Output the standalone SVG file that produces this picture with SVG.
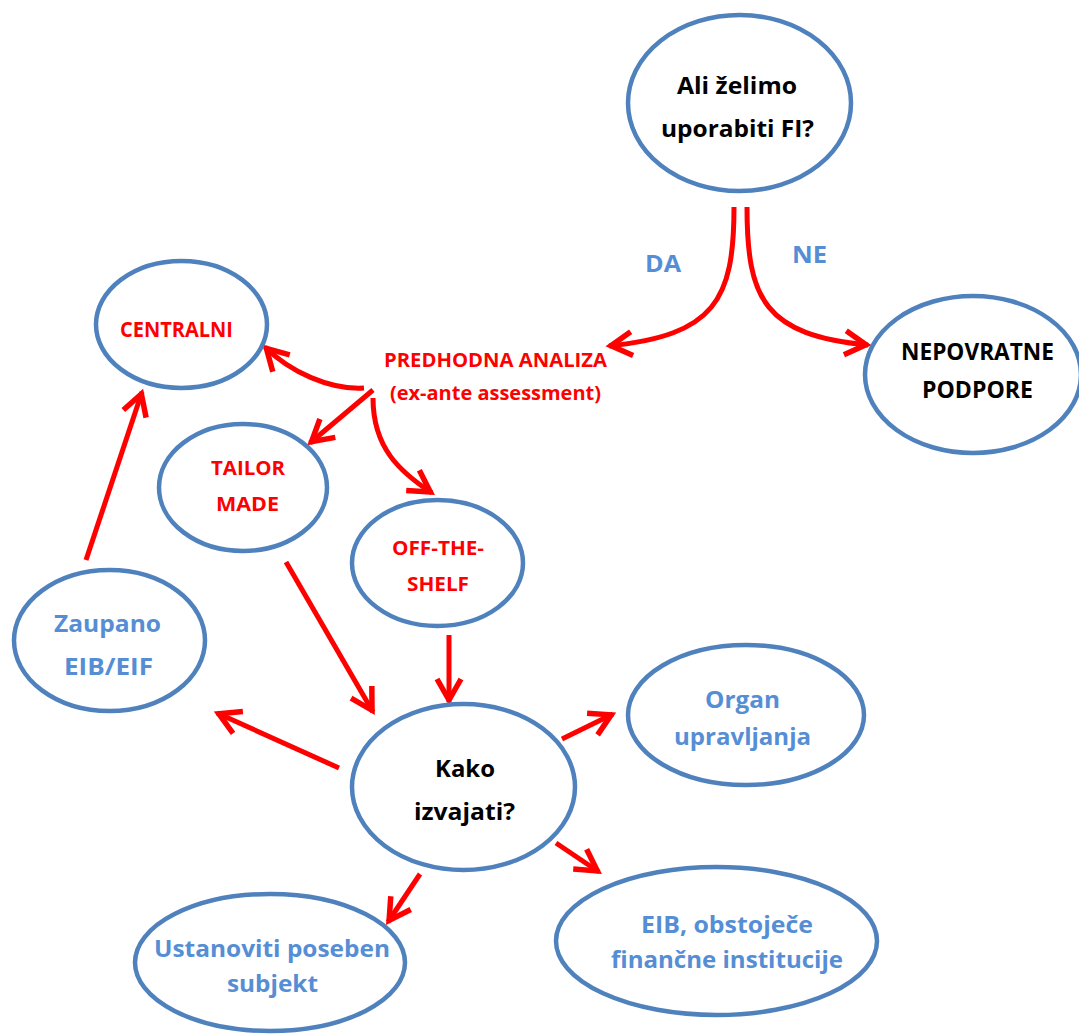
<svg xmlns="http://www.w3.org/2000/svg" width="1079" height="1034" viewBox="0 0 1079 1034">
  <style>
    .node { fill: #ffffff; stroke: #4f81bd; stroke-width: 4.5; }
    .lbl { font-family: "Open Sans", Lato, "Liberation Sans", sans-serif; font-weight: 700; text-anchor: middle; }
    .black { fill: #000000; }
    .red { fill: #ff0000; }
    .blue { fill: #558ed5; }
    .edge { fill: none; stroke: #ff0000; stroke-width: 5; marker-end: url(#head); }
  </style>
  <defs>
    <!-- open chevron arrowhead -->
    <marker id="head" markerUnits="userSpaceOnUse" markerWidth="40" markerHeight="40" refX="0" refY="0" orient="auto" overflow="visible">
      <path d="M-23,-12 L-2,0 L-23,12" fill="none" stroke="#ff0000" stroke-width="5.5" stroke-linejoin="miter"/>
    </marker>
  </defs>

  <rect width="1079" height="1034" fill="#ffffff"/>

  <g id="connectors">
    <path class="edge" d="M734,207 C734,300 715,335 609,346"/>
    <path class="edge" d="M747,207 C747,300 765,335 868,345"/>
    <path class="edge" d="M364,388 C330,390 290,372 265,347"/>
    <path class="edge" d="M373,390 L310,443"/>
    <path class="edge" d="M373,398 C373,448 400,472 432,493"/>
    <path class="edge" d="M286,562 L373,712"/>
    <path class="edge" d="M449,635 L449,702"/>
    <path class="edge" d="M86,560 L142,392"/>
    <path class="edge" d="M339,768 L217,713"/>
    <path class="edge" d="M562,739 L613,714"/>
    <path class="edge" d="M556,843 L599,872"/>
    <path class="edge" d="M420,874 L388,922"/>
  </g>

  <g id="edge-labels">
    <text class="lbl blue" x="663" y="272" font-size="24" textLength="36" lengthAdjust="spacingAndGlyphs">DA</text>
    <text class="lbl blue" x="809.5" y="263" font-size="24" textLength="35" lengthAdjust="spacingAndGlyphs">NE</text>
  </g>

  <g id="node-uporaba">
    <ellipse class="node" cx="739.5" cy="103" rx="111.5" ry="88"/>
    <text class="lbl black" x="737" y="94" font-size="24" textLength="120" lengthAdjust="spacingAndGlyphs">Ali želimo</text>
    <text class="lbl black" x="737.5" y="137" font-size="24" textLength="153" lengthAdjust="spacingAndGlyphs">uporabiti FI?</text>
  </g>

  <g id="node-nepovratne">
    <ellipse class="node" cx="973" cy="374.5" rx="108" ry="78.5"/>
    <text class="lbl black" x="977.5" y="360" font-size="23" textLength="153" lengthAdjust="spacingAndGlyphs">NEPOVRATNE</text>
    <text class="lbl black" x="977.5" y="398" font-size="23" textLength="111" lengthAdjust="spacingAndGlyphs">PODPORE</text>
  </g>

  <g id="node-predhodna">
    <text class="lbl red" x="495.5" y="367" font-size="19" textLength="223" lengthAdjust="spacingAndGlyphs">PREDHODNA ANALIZA</text>
    <text class="lbl red" x="495.5" y="400" font-size="19" textLength="211" lengthAdjust="spacingAndGlyphs">(ex-ante assessment)</text>
  </g>

  <g id="node-centralni">
    <ellipse class="node" cx="181.5" cy="324.5" rx="85.5" ry="63.5"/>
    <text class="lbl red" x="176.5" y="337" font-size="20.5" textLength="113" lengthAdjust="spacingAndGlyphs">CENTRALNI</text>
  </g>

  <g id="node-tailor">
    <ellipse class="node" cx="243" cy="487.5" rx="84" ry="63.5"/>
    <text class="lbl red" x="248" y="475" font-size="19.5" textLength="74" lengthAdjust="spacingAndGlyphs">TAILOR</text>
    <text class="lbl red" x="247.5" y="511" font-size="19.5" textLength="63" lengthAdjust="spacingAndGlyphs">MADE</text>
  </g>

  <g id="node-offshelf">
    <ellipse class="node" cx="437.5" cy="563" rx="85.5" ry="63"/>
    <text class="lbl red" x="438" y="555" font-size="19.5" textLength="92" lengthAdjust="spacingAndGlyphs">OFF-THE-</text>
    <text class="lbl red" x="438" y="591" font-size="19.5" textLength="62" lengthAdjust="spacingAndGlyphs">SHELF</text>
  </g>

  <g id="node-zaupano">
    <ellipse class="node" cx="109.5" cy="640.5" rx="95.5" ry="70.5"/>
    <text class="lbl blue" x="107.5" y="632" font-size="24" textLength="107" lengthAdjust="spacingAndGlyphs">Zaupano</text>
    <text class="lbl blue" x="108.5" y="675" font-size="24" textLength="89" lengthAdjust="spacingAndGlyphs">EIB/EIF</text>
  </g>

  <g id="node-kako">
    <ellipse class="node" cx="463.5" cy="787" rx="111.5" ry="83"/>
    <text class="lbl black" x="465" y="777" font-size="23.5" textLength="60" lengthAdjust="spacingAndGlyphs">Kako</text>
    <text class="lbl black" x="464.5" y="820" font-size="23.5" textLength="101" lengthAdjust="spacingAndGlyphs">izvajati?</text>
  </g>

  <g id="node-organ">
    <ellipse class="node" cx="746" cy="715" rx="118" ry="70"/>
    <text class="lbl blue" x="742.5" y="708" font-size="24" textLength="75" lengthAdjust="spacingAndGlyphs">Organ</text>
    <text class="lbl blue" x="742.5" y="745" font-size="24" textLength="137" lengthAdjust="spacingAndGlyphs">upravljanja</text>
  </g>

  <g id="node-ustanoviti">
    <ellipse class="node" cx="270" cy="962.5" rx="135" ry="68.5"/>
    <text class="lbl blue" x="272" y="957" font-size="24" textLength="236" lengthAdjust="spacingAndGlyphs">Ustanoviti poseben</text>
    <text class="lbl blue" x="272.5" y="992" font-size="24" textLength="91" lengthAdjust="spacingAndGlyphs">subjekt</text>
  </g>

  <g id="node-eib">
    <ellipse class="node" cx="716.5" cy="941" rx="160.5" ry="74"/>
    <text class="lbl blue" x="727" y="933" font-size="23.5" textLength="172" lengthAdjust="spacingAndGlyphs">EIB, obstoječe</text>
    <text class="lbl blue" x="727" y="968" font-size="23.5" textLength="232" lengthAdjust="spacingAndGlyphs">finančne institucije</text>
  </g>
</svg>
